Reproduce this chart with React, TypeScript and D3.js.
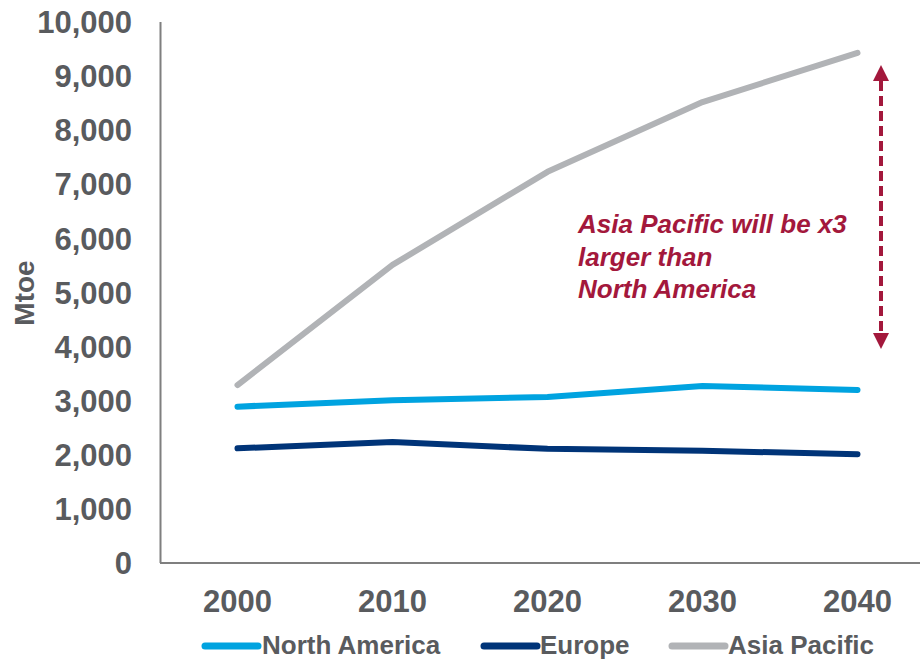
import React from "react";
import * as d3 from "d3";

const years = ["2000", "2010", "2020", "2030", "2040"];
const northAmerica = [2890, 3010, 3070, 3270, 3200];
const europe = [2120, 2235, 2110, 2075, 2010];
const asiaPacific = [3290, 5510, 7230, 8520, 9430];
const yTicks = [0, 1000, 2000, 3000, 4000, 5000, 6000, 7000, 8000, 9000, 10000];
const seriesNames = ["North America", "Europe", "Asia Pacific"];
const seriesColors = ["#00A3E0", "#003478", "#B1B3B6"];
const annotationLines = ["Asia Pacific will be x3", "larger than", "North America"];

const FONT = "'Liberation Sans', Arial, sans-serif";
const TEXT = "#595B5E";
const RED = "#A3183C";

export default function App() {
  const x = d3.scaleBand<string>().domain(years).range([160, 935]).padding(0);
  const y = d3.scaleLinear().domain([0, 10000]).range([563, 22]);
  const cx = (yr: string) => (x(yr) ?? 0) + x.bandwidth() / 2;
  const line = d3
    .line<number>()
    .x((_, i) => cx(years[i]))
    .y((d) => y(d));
  const all = [northAmerica, europe, asiaPacific];
  const fmt = d3.format(",");

  const arrowX = 881;
  const arrowTop = y(10000) + 43;
  const arrowBot = y(3900) - 3;

  const legendY = 645;
  const legendItems = [
    { lx: 205, tx: 262 },
    { lx: 484, tx: 540 },
    { lx: 672, tx: 728 },
  ];

  return (
    <svg
      width={920}
      height={660}
      style={{ position: "absolute", left: 0, top: 0, background: "#fff" }}
      fontFamily={FONT}
    >
      {/* axes */}
      <line x1={160.5} x2={160.5} y1={y(10000)} y2={y(0)} stroke="#7F7F7F" strokeWidth={2} />
      <line x1={160} x2={920} y1={y(0)} y2={y(0)} stroke="#7F7F7F" strokeWidth={2} />

      {/* y tick labels */}
      {yTicks.map((t) => (
        <text
          key={t}
          x={132}
          y={y(t)}
          dy="0.36em"
          textAnchor="end"
          fontSize={31}
          fontWeight="bold"
          fill={TEXT}
        >
          {fmt(t)}
        </text>
      ))}

      {/* x tick labels */}
      {years.map((yr) => (
        <text
          key={yr}
          x={cx(yr)}
          y={612}
          textAnchor="middle"
          fontSize={31}
          fontWeight="bold"
          fill={TEXT}
        >
          {yr}
        </text>
      ))}

      {/* y axis title */}
      <text
        transform={`translate(34,293) rotate(-90)`}
        textAnchor="middle"
        fontSize={28}
        fontWeight="bold"
        fill={TEXT}
      >
        Mtoe
      </text>

      {/* lines */}
      {all.map((s, i) => (
        <path
          key={i}
          d={line(s) ?? ""}
          fill="none"
          stroke={seriesColors[i]}
          strokeWidth={6}
          strokeLinecap="round"
          strokeLinejoin="round"
        />
      ))}

      {/* arrow */}
      <line
        x1={arrowX}
        x2={arrowX}
        y1={arrowTop + 16}
        y2={arrowBot - 16}
        stroke={RED}
        strokeWidth={4}
        strokeDasharray="10 5"
      />
      <path
        d={`M${arrowX},${arrowTop} L${arrowX - 8},${arrowTop + 16} L${arrowX + 8},${arrowTop + 16} Z`}
        fill={RED}
      />
      <path
        d={`M${arrowX},${arrowBot} L${arrowX - 8},${arrowBot - 16} L${arrowX + 8},${arrowBot - 16} Z`}
        fill={RED}
      />

      {/* annotation */}
      {annotationLines.map((t, i) => (
        <text
          key={t}
          x={578}
          y={233 + i * 32.5}
          fontSize={26}
          fontWeight="bold"
          fontStyle="italic"
          fill={RED}
        >
          {t}
        </text>
      ))}

      {/* legend */}
      {seriesNames.map((n, i) => (
        <g key={n}>
          <line
            x1={legendItems[i].lx}
            x2={legendItems[i].lx + 53}
            y1={legendY + 1}
            y2={legendY + 1}
            stroke={seriesColors[i]}
            strokeWidth={7}
            strokeLinecap="round"
          />
          <text
            x={legendItems[i].tx}
            y={legendY}
            dy="0.36em"
            fontSize={26}
            fontWeight="bold"
            fill={TEXT}
          >
            {n}
          </text>
        </g>
      ))}
    </svg>
  );
}
